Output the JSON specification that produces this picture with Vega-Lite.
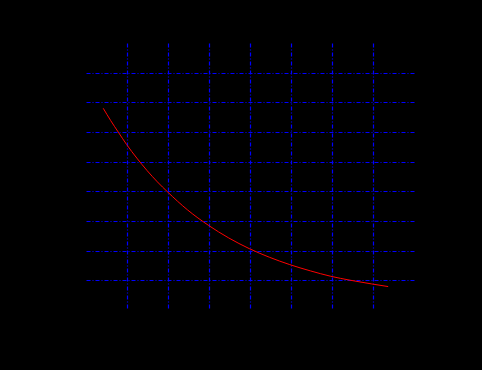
{
  "$schema": "https://vega.github.io/schema/vega-lite/v6.json",
  "width": 328,
  "height": 267,
  "autosize": {"type": "none"},
  "padding": {"left": 86, "top": 43, "right": 68, "bottom": 60},
  "background": "#000000",
  "config": {
    "view": {"stroke": null, "fill": "#000000"},
    "axis": {
      "domain": false,
      "ticks": false,
      "labels": false,
      "title": null,
      "grid": true,
      "gridColor": "#0000ff",
      "gridOpacity": 1,
      "gridWidth": 1.2,
      "gridDash": [4, 2, 1, 2]
    }
  },
  "data": {
    "values": [
      {"x": 0.42, "y": 6.8},
      {"x": 0.6, "y": 6.39},
      {"x": 0.8, "y": 5.97},
      {"x": 0.99, "y": 5.58},
      {"x": 1.24, "y": 5.12},
      {"x": 1.49, "y": 4.7},
      {"x": 1.74, "y": 4.32},
      {"x": 1.99, "y": 3.98},
      {"x": 2.48, "y": 3.37},
      {"x": 2.98, "y": 2.86},
      {"x": 3.48, "y": 2.43},
      {"x": 3.98, "y": 2.07},
      {"x": 4.47, "y": 1.78},
      {"x": 4.97, "y": 1.53},
      {"x": 5.47, "y": 1.32},
      {"x": 5.96, "y": 1.14},
      {"x": 6.46, "y": 1.0},
      {"x": 6.96, "y": 0.88},
      {"x": 7.37, "y": 0.79}
    ]
  },
  "mark": {"type": "line", "color": "#ff0000", "strokeWidth": 1, "interpolate": "monotone"},
  "encoding": {
    "x": {"field": "x", "type": "quantitative", "scale": {"domain": [0, 8], "nice": false, "zero": false}, "axis": {"values": [1, 2, 3, 4, 5, 6, 7]}},
    "y": {"field": "y", "type": "quantitative", "scale": {"domain": [0, 9], "nice": false, "zero": false}, "axis": {"values": [1, 2, 3, 4, 5, 6, 7, 8]}}
  }
}
